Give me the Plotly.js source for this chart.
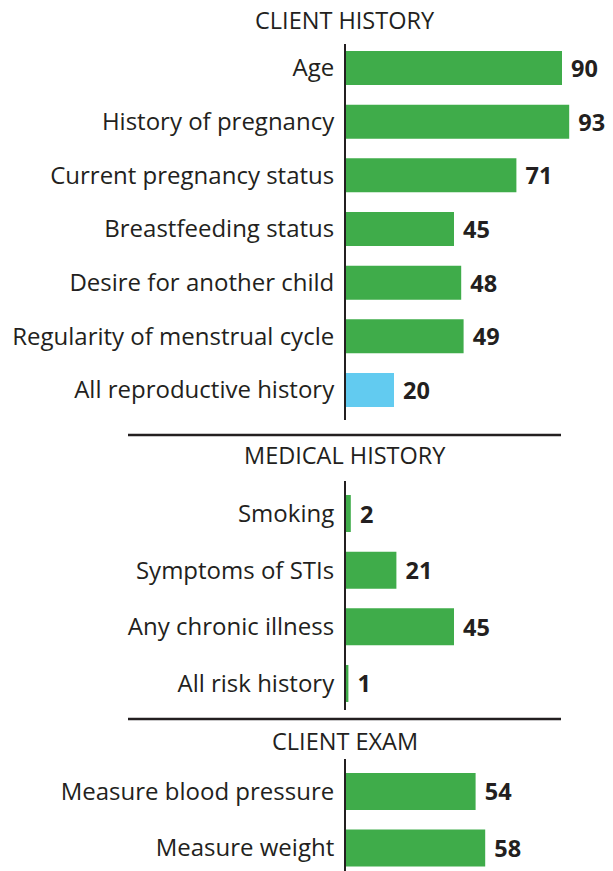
<!DOCTYPE html>
<html>
<head>
<meta charset="utf-8">
<script src="https://cdn.plot.ly/plotly-3.0.1.min.js"></script>
<style>html,body{margin:0;padding:0;background:#fff;}#chart{width:613px;height:871px;}</style>
</head>
<body>
<div id="chart"></div>
<script>
// ---- data ----
const sectionTitles = ["CLIENT HISTORY", "MEDICAL HISTORY", "CLIENT EXAM"];
const clientLabels = ["Age", "History of pregnancy", "Current pregnancy status", "Breastfeeding status", "Desire for another child", "Regularity of menstrual cycle", "All reproductive history"];
const clientValues = [90, 93, 71, 45, 48, 49, 20];
const medicalLabels = ["Smoking", "Symptoms of STIs", "Any chronic illness", "All risk history"];
const medicalValues = [2, 21, 45, 1];
const examLabels = ["Measure blood pressure", "Measure weight"];
const examValues = [54, 58];

// ---- style ----
const GREEN = "#3fac4a";
const BLUE = "#62cbf0";
const INK = "#231f20";
const W = 613, H = 871, L = 346;
const PX_PER_UNIT = 2.4;
const xMax = (W - L) / PX_PER_UNIT;
const labelFont = {family: "'Open Sans', Lato, sans-serif", size: 24, color: INK};
const valueFont = {family: "'Open Sans', Lato, sans-serif", size: 23.5, color: INK, weight: 700};

function py(px) { return 1 - px / H; }
function pxX(px) { return (px - L) / (W - L); }

function barTrace(labels, values, colors, width, axNum) {
  const s = axNum === 1 ? "" : String(axNum);
  return {
    type: "bar", orientation: "h",
    x: values, y: labels,
    xaxis: "x" + s, yaxis: "y" + s,
    marker: {color: colors, line: {width: 0}},
    width: width,
    text: values.map(v => "\u00a0" + v),
    textposition: "outside",
    textfont: valueFont,
    cliponaxis: false,
    hoverinfo: "skip"
  };
}

const clientColors = clientValues.map((v, i) => i === clientValues.length - 1 ? BLUE : GREEN);
const medicalColors = medicalValues.map(() => GREEN);
const examColors = examValues.map(() => GREEN);

const data = [
  barTrace(clientLabels, clientValues, clientColors, 0.634, 1),
  barTrace(medicalLabels, medicalValues, medicalColors, 0.653, 2),
  barTrace(examLabels, examValues, examColors, 0.655, 3)
];

function xAxis(anchor) {
  return {domain: [0, 1], range: [0, xMax], visible: false, fixedrange: true, anchor: anchor};
}
function yAxis(domain, range, anchor) {
  return {
    domain: domain, range: range, type: "category", anchor: anchor,
    showline: true, linecolor: INK, linewidth: 2,
    showgrid: false, zeroline: false, ticks: "", ticklabelstandoff: 5,
    tickfont: labelFont, fixedrange: true
  };
}

const layout = {
  width: W, height: H,
  margin: {l: L, r: 0, t: 0, b: 0, pad: 0},
  paper_bgcolor: "#fff", plot_bgcolor: "#fff",
  showlegend: false,
  xaxis: xAxis("y"),
  xaxis2: xAxis("y2"),
  xaxis3: xAxis("y3"),
  yaxis: yAxis([py(420), py(44)], [6.559, -0.447], "x"),
  yaxis2: yAxis([py(710), py(481)], [3.468, -0.574], "x2"),
  yaxis3: yAxis([0, py(759)], [1.407, -0.575], "x3"),
  annotations: [
    {text: sectionTitles[0], y: py(20)},
    {text: sectionTitles[1], y: py(455)},
    {text: sectionTitles[2], y: py(741)}
  ].map(a => Object.assign(a, {xref: "paper", yref: "paper", x: pxX(345),
    showarrow: false, xanchor: "center", yanchor: "middle",
    font: {family: "'Open Sans', Lato, sans-serif", size: 23.5, color: INK}})),
  shapes: [435, 719].map(p => ({
    type: "line", xref: "paper", yref: "paper",
    x0: pxX(128), x1: pxX(561),
    y0: py(p), y1: py(p),
    line: {color: INK, width: 2.5}
  }))
};

Plotly.newPlot("chart", data, layout, {staticPlot: true, displayModeBar: false});
</script>
</body>
</html>
